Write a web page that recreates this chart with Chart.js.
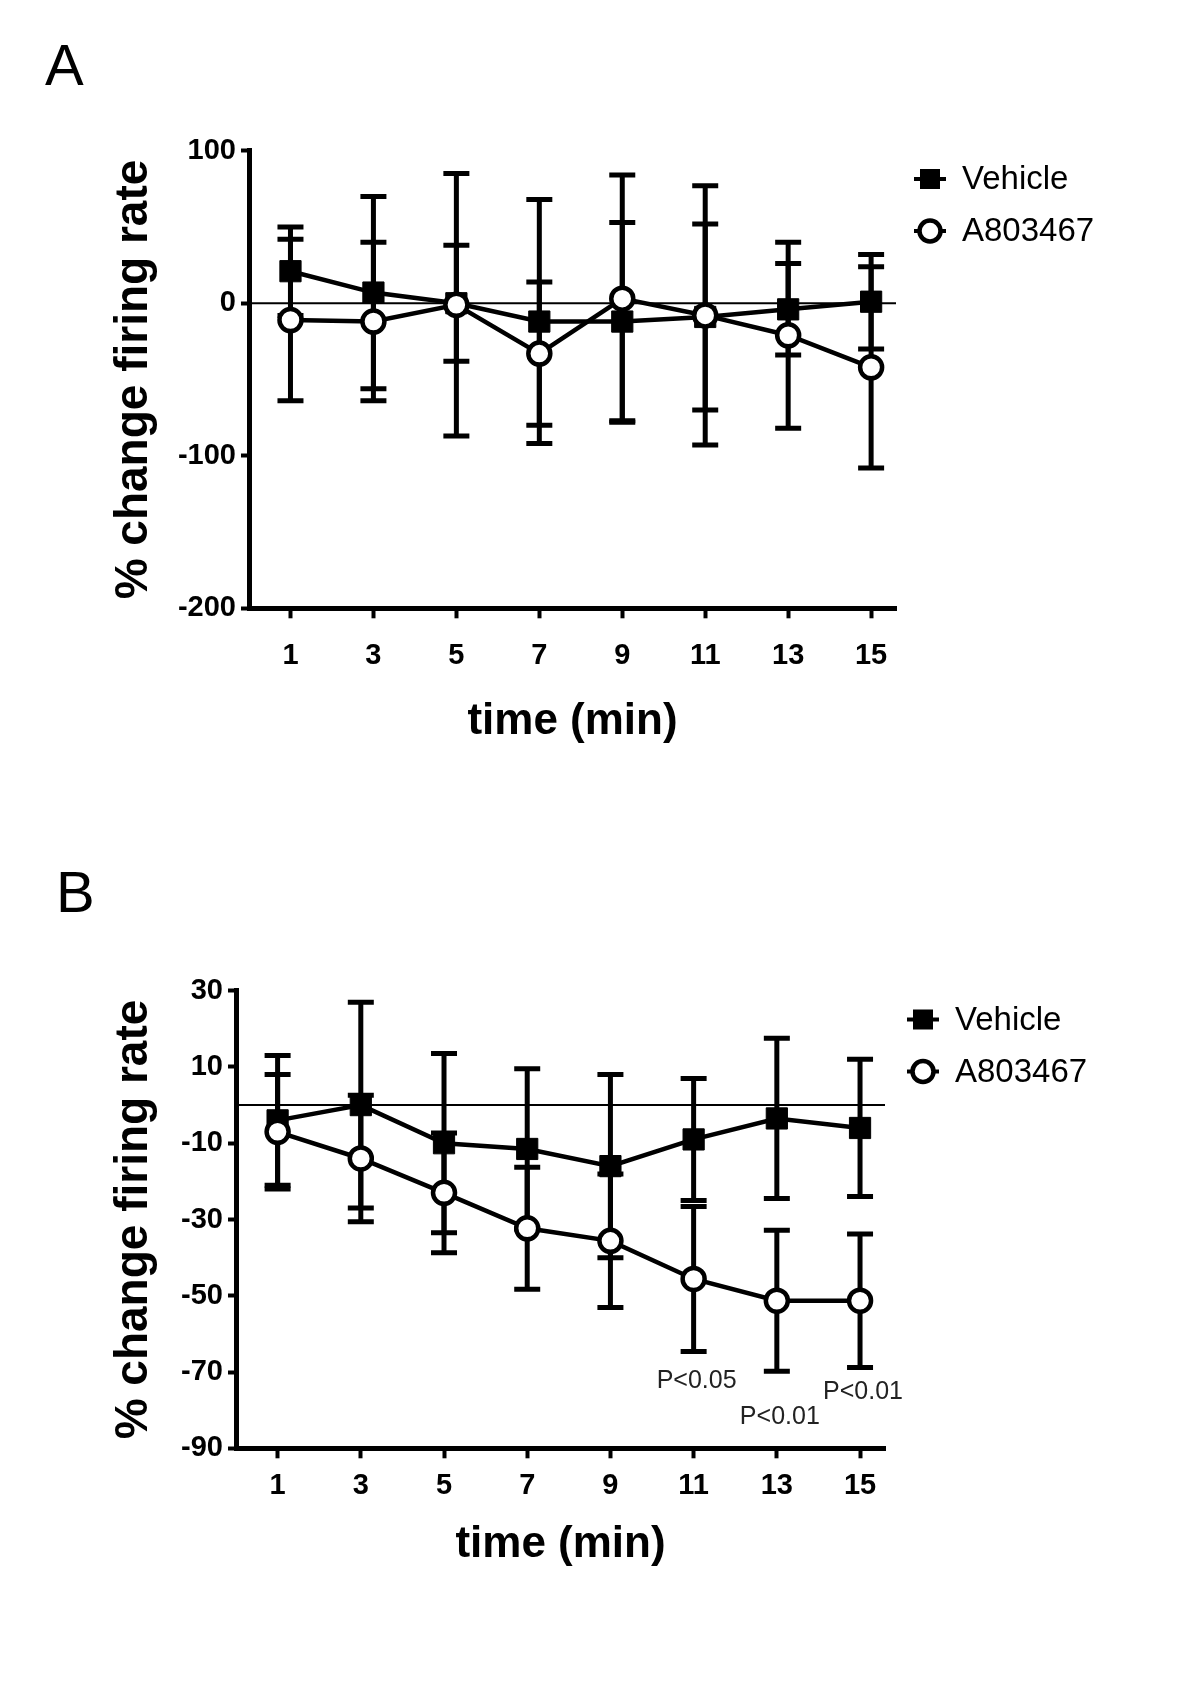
<!DOCTYPE html>
<html>
<head>
<meta charset="utf-8">
<script src="https://cdn.jsdelivr.net/npm/chart.js@4.4.1/dist/chart.umd.min.js"></script>
<style>
  html, body { margin: 0; padding: 0; background: #fff; }
  #wrap  { position: relative; width: 1200px; height: 1696px; }
  .panel { position: absolute; left: 0; width: 1200px; height: 848px; }
</style>
</head>
<body>
<div id="wrap">
  <div class="panel" style="top:0"><canvas id="chart-a" width="1200" height="848"></canvas></div>
  <div class="panel" style="top:848px"><canvas id="chart-b" width="1200" height="848"></canvas></div>
</div>
<script>
// ── Data (mean ± error) ───────────────────────────────────────
const TIMES        = [1, 3, 5, 7, 9, 11, 13, 15];
const SERIES_NAMES = ['Vehicle', 'A803467'];

// Panel A
const A_VEHICLE     = [21, 7, 0, -12, -12, -9, -4, 1];
const A_VEHICLE_ERR = [29, 63, 38, 80, 65, 61, 30, 31];
const A_DRUG        = [-11, -12, -1, -33, 3, -8, -21, -42];
const A_DRUG_ERR    = [53, 52, 86, 47, 81, 85, 61, 66];
const A_Y_TICKS     = [-200, -100, 0, 100];

// Panel B
const B_VEHICLE     = [-4, 0, -10, -11.5, -16, -9, -3.5, -6];
const B_VEHICLE_ERR = [17, 27, 23.5, 21, 24, 16, 21, 18];
const B_DRUG        = [-7, -14, -23, -32.3, -35.6, -45.6, -51.3, -51.3];
const B_DRUG_ERR    = [15, 16.6, 15.7, 16, 17.5, 19, 18.5, 17.5];
const B_Y_TICKS     = [-90, -70, -50, -30, -10, 10, 30];

// significance notes under the A803467 bars (panel B)
const B_P_TIMES  = [11, 13, 15];
const B_P_LEVELS = [-72.3, -81.8, -75.2];
const B_P_TEXT   = ['P<0.05', 'P<0.01', 'P<0.01'];

// ── Shared style ──────────────────────────────────────────────
const FONT = "'Liberation Sans', Arial, sans-serif";
const INK  = '#000';

// zero reference line across the plot
const zeroLine = {
  id: 'zeroLine',
  beforeDatasetsDraw(chart) {
    const { ctx, chartArea: a, scales: { y } } = chart;
    const py = y.getPixelForValue(0);
    ctx.save();
    ctx.strokeStyle = INK;
    ctx.lineWidth   = 2;
    ctx.beginPath();
    ctx.moveTo(a.left, py);
    ctx.lineTo(a.right, py);
    ctx.stroke();
    ctx.restore();
  }
};

// vertical error bars with caps, drawn under the markers
const errorBars = {
  id: 'errorBars',
  beforeDatasetsDraw(chart) {
    const { ctx, scales: { x, y } } = chart;
    ctx.save();
    ctx.strokeStyle = INK;
    ctx.lineWidth   = 5;
    ctx.lineCap     = 'butt';
    chart.data.datasets.forEach(ds => {
      ds.data.forEach((p, i) => {
        const e  = ds.err[i];
        const px = x.getPixelForValue(p.x);
        const hi = y.getPixelForValue(p.y + e);
        const lo = y.getPixelForValue(p.y - e);
        ctx.beginPath();
        ctx.moveTo(px, hi); ctx.lineTo(px, lo);
        ctx.moveTo(px - 13, hi); ctx.lineTo(px + 13, hi);
        ctx.moveTo(px - 13, lo); ctx.lineTo(px + 13, lo);
        ctx.stroke();
      });
    });
    ctx.restore();
  }
};

// legend at the right, panel letter, p-value notes
const decorations = {
  id: 'decorations',
  afterDraw(chart, args, opts) {
    const { ctx, scales: { x, y } } = chart;
    ctx.save();

    // panel letter
    ctx.fillStyle    = INK;
    ctx.font         = `58px ${FONT}`;
    ctx.textBaseline = 'alphabetic';
    ctx.textAlign    = 'left';
    ctx.fillText(opts.letter, opts.letterX, opts.letterY);

    // legend
    ctx.font         = `33px ${FONT}`;
    ctx.textBaseline = 'middle';
    chart.data.datasets.forEach((ds, i) => {
      const ly = opts.legendY + i * 52;
      const mx = opts.legendX;
      ctx.strokeStyle = INK;
      ctx.lineWidth   = 4;
      ctx.beginPath();
      ctx.moveTo(mx - 16, ly); ctx.lineTo(mx + 16, ly);
      ctx.stroke();
      if (ds.pointStyle === 'rect') {
        ctx.fillStyle = INK;
        ctx.fillRect(mx - 10, ly - 10, 20, 20);
      } else {
        ctx.fillStyle = '#fff';
        ctx.lineWidth = 4.5;
        ctx.beginPath();
        ctx.arc(mx, ly, 10.5, 0, Math.PI * 2);
        ctx.fill();
        ctx.stroke();
      }
      ctx.fillStyle = INK;
      ctx.fillText(ds.label, opts.legendX + 32, ly + 1);
    });

    // p-value notes
    if (opts.notes) {
      ctx.font      = `25px ${FONT}`;
      ctx.textAlign = 'center';
      opts.notes.times.forEach((t, i) => {
        ctx.fillStyle = '#222';
        ctx.fillText(opts.notes.text[i], x.getPixelForValue(t) + 3, y.getPixelForValue(opts.notes.levels[i]));
      });
    }
    ctx.restore();
  }
};

function toPoints(values) {
  return values.map((v, i) => ({ x: TIMES[i], y: v }));
}

function makePanel(canvasId, cfg) {
  return new Chart(document.getElementById(canvasId).getContext('2d'), {
    type: 'line',
    data: {
      datasets: [
        {
          label:                SERIES_NAMES[0],
          data:                 toPoints(cfg.vehicle),
          err:                  cfg.vehicleErr,
          order:                1,
          borderColor:          INK,
          borderWidth:          4.5,
          tension:              0,
          pointStyle:           'rect',
          pointRadius:          15,
          pointBackgroundColor: INK,
          pointBorderColor:     INK,
          pointBorderWidth:     1
        },
        {
          label:                SERIES_NAMES[1],
          data:                 toPoints(cfg.drug),
          err:                  cfg.drugErr,
          order:                0,
          borderColor:          INK,
          borderWidth:          4.5,
          tension:              0,
          pointStyle:           'circle',
          pointRadius:          11,
          pointBackgroundColor: '#fff',
          pointBorderColor:     INK,
          pointBorderWidth:     4.5
        }
      ]
    },
    options: {
      responsive: false,
      animation:  false,
      events:     [],
      layout: {
        padding: { left: 0, top: cfg.top, right: 1200 - cfg.right, bottom: 848 - cfg.bottom - 200 }
      },
      plugins: {
        legend:  { display: false },
        tooltip: { enabled: false },
        decorations: cfg.deco
      },
      scales: {
        x: {
          type: 'linear',
          min:  0,
          max:  15.6,
          afterBuildTicks: s => { s.ticks = TIMES.map(v => ({ value: v })); },
          afterFit:        s => { s.height = 200; },
          border: { display: true, color: INK, width: 5 },
          grid:   { drawOnChartArea: false, drawTicks: true, tickLength: 10, tickWidth: 4, tickColor: INK },
          ticks:  {
            color: INK, autoSkip: false, maxRotation: 0,
            padding: cfg.xTickPad,
            font: { family: FONT, size: 29, weight: 'bold' },
            callback: v => String(v)
          },
          title: {
            display: true, text: 'time (min)', color: INK,
            font: { family: FONT, size: 44, weight: 'bold' },
            padding: { top: 0, bottom: cfg.xTitlePad }
          }
        },
        y: {
          min: cfg.yTicks[0],
          max: cfg.yTicks[cfg.yTicks.length - 1],
          afterBuildTicks: s => { s.ticks = cfg.yTicks.map(v => ({ value: v })); },
          afterFit:        s => { s.width = cfg.left; },
          border: { display: true, color: INK, width: 5 },
          grid:   { drawOnChartArea: false, drawTicks: true, tickLength: 8, tickWidth: 4, tickColor: INK },
          ticks:  {
            color: INK, padding: 5,
            font: { family: FONT, size: 29, weight: 'bold' },
            callback: v => String(v)
          },
          title: {
            display: true, text: '% change firing rate', color: INK,
            font: { family: FONT, size: 46, weight: 'bold' },
            padding: { top: 107, bottom: 0 }
          }
        }
      }
    },
    plugins: [zeroLine, errorBars, decorations]
  });
}

// ── Panel A ───────────────────────────────────────────────────
makePanel('chart-a', {
  vehicle: A_VEHICLE, vehicleErr: A_VEHICLE_ERR,
  drug:    A_DRUG,    drugErr:    A_DRUG_ERR,
  yTicks:  A_Y_TICKS,
  left: 249, right: 896, top: 150.7, bottom: 608.3,
  xTickPad: 20, xTitlePad: 60,
  deco: { letter: 'A', letterX: 45, letterY: 85, legendX: 930, legendY: 179 }
});

// ── Panel B ───────────────────────────────────────────────────
makePanel('chart-b', {
  vehicle: B_VEHICLE, vehicleErr: B_VEHICLE_ERR,
  drug:    B_DRUG,    drugErr:    B_DRUG_ERR,
  yTicks:  B_Y_TICKS,
  left: 236, right: 885, top: 142.7, bottom: 600.3,
  xTickPad: 10.5, xTitlePad: 77,
  deco: {
    letter: 'B', letterX: 56, letterY: 64, legendX: 923, legendY: 171.5,
    notes: { times: B_P_TIMES, levels: B_P_LEVELS, text: B_P_TEXT }
  }
});
</script>
</body>
</html>
